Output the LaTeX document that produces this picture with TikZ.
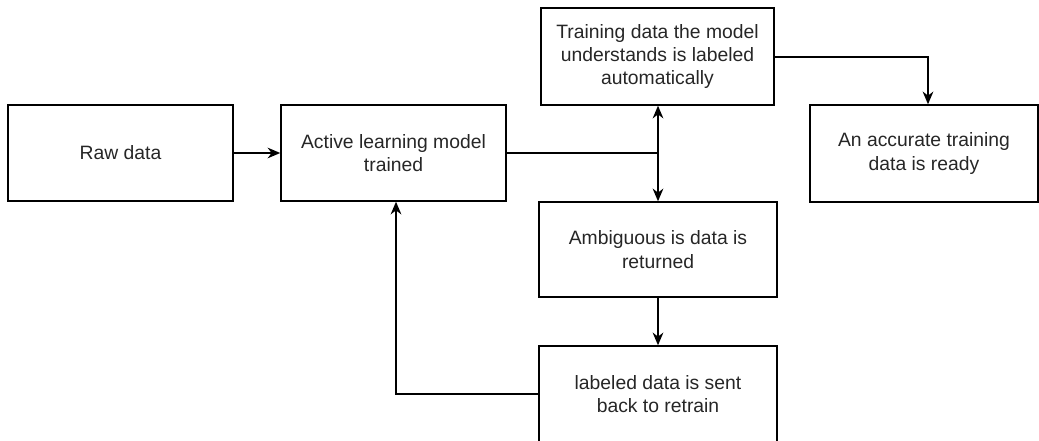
\documentclass[tikz,border=0pt]{standalone}
\usepackage{fontspec}
\setmainfont{Liberation Sans}
\usetikzlibrary{arrows.meta}
\begin{document}
\begin{tikzpicture}[x=0.75pt,y=-0.75pt,
  box/.style={draw=black, line width=1.1pt, rectangle, inner sep=0pt, align=center,
    font=\fontsize{14.5pt}{17.5pt}\selectfont, text=black!85},
  conn/.style={draw=black, line width=1.1pt},
  arr/.style={conn, -{Stealth[length=9.5pt,width=8pt,inset=3pt]}}]
\path[use as bounding box] (0,0) rectangle (1039,441);
\clip (0,0) rectangle (1039,441);
\node[box, minimum width=168.75pt, minimum height=72pt] (raw) at (120.5,153) {Raw data};
\node[box, minimum width=168.75pt, minimum height=72pt] (active) at (393.5,153) {Active learning model\\trained};
\node[box, minimum width=174.75pt, minimum height=72.75pt] (train) at (657.5,56.5) {Training data the model\\understands is labeled\\automatically};
\node[box, minimum width=171pt, minimum height=72.75pt] (ready) at (924,153.5) {An accurate training\\data is ready};
\node[box, minimum width=178.5pt, minimum height=71.25pt] (amb) at (658,249.5) {Ambiguous is data is\\returned};
\node[box, minimum width=178.5pt, minimum height=72pt] (lab) at (658,394) {labeled data is sent\\back to retrain};
\coordinate (j) at (658,153);
\coordinate (rj) at (928,57);
\coordinate (lj) at (396,394);
\draw[arr] (raw.east) -- (active.west);
\draw[conn] (active.east) -- (j);
\draw[arr] (j) -- (j |- train.south);
\draw[arr] (j) -- (j |- amb.north);
\draw[arr] (train.east |- rj) -- (rj) -- (rj |- ready.north);
\draw[arr] (amb.south) -- (lab.north);
\draw[arr] (lab.west) -- (lj) -- (lj |- active.south);
\end{tikzpicture}
\end{document}
